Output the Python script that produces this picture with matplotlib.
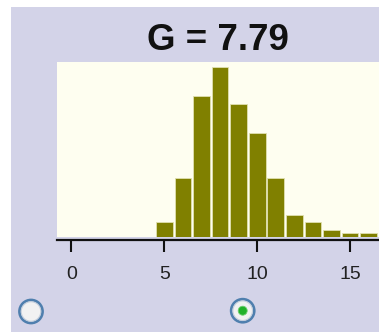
import matplotlib
matplotlib.use("Agg")
import matplotlib.pyplot as plt
from matplotlib.patches import Circle

# Sampling distribution counts
values = [5, 6, 7, 8, 9, 10, 11, 12, 13, 14, 15, 16]
counts = [4, 16, 38, 46, 36, 28, 16, 6, 4, 2, 1, 1]
tick_values = [0, 5, 10, 15]
title_text = "G = 7.79"

W, H = 379, 333
DPI = 100
fig = plt.figure(figsize=(W / DPI, H / DPI), dpi=DPI, facecolor="white")

def px_box(x0, y0, x1, y1):
    """Convert a pixel box (top-left origin) into figure fractions."""
    return [x0 / W, 1 - y1 / H, (x1 - x0) / W, (y1 - y0) / H]

# Lavender panel behind everything
bg = fig.add_axes(px_box(11, 7, 379, 332), zorder=-5)
bg.set_facecolor("#d3d3e8")
bg.set_xticks([])
bg.set_yticks([])
for s in bg.spines.values():
    s.set_visible(False)

ax = fig.add_axes(px_box(57, 62, 379, 237), zorder=1)
ax.set_facecolor("#fefef0")
ax.bar(values, counts, width=0.9, color="#808000", edgecolor="#e0e0b0",
       linewidth=0.6, zorder=2)
ax.set_xlim(-0.78, 16.56)
ax.set_ylim(0, 47.3)

for side in ("top", "right", "left"):
    ax.spines[side].set_visible(False)
ax.spines["bottom"].set_position(("outward", 2.2))
ax.spines["bottom"].set_linewidth(1.6)
ax.spines["bottom"].set_color("#111111")
ax.set_yticks([])
ax.set_xticks(tick_values)
ax.set_xticklabels([str(v) for v in tick_values])
ax.tick_params(axis="x", direction="out", length=8.6, width=1.5,
               color="#111111", pad=10, labelsize=14, labelcolor="#222222")
for lbl in ax.get_xticklabels():
    lbl.set_family("Liberation Sans")

fig.text(218 / W, 1 - 41 / H, title_text, ha="center", va="center",
         fontsize=26.5, fontweight="bold", family="Liberation Sans",
         color="#111111", zorder=3)

# Radio buttons below the axis
ov = fig.add_axes([0, 0, 1, 1], facecolor="none", zorder=2)
ov.set_xlim(0, W)
ov.set_ylim(H, 0)
ov.axis("off")
for cx, cy, selected in [(31, 311.5, False), (242.7, 310.7, True)]:
    ov.add_patch(Circle((cx, cy), 11.5, facecolor="#f2f2f2",
                        edgecolor="#4f7fae", linewidth=2.0))
    ov.add_patch(Circle((cx, cy), 9.8, facecolor="none",
                        edgecolor="#c4cedc", linewidth=0.8))
    if selected:
        ov.add_patch(Circle((cx, cy), 4.5, facecolor="#22b22a",
                            edgecolor="#70d070", linewidth=0.6))

fig.savefig("out.png", dpi=DPI, facecolor="white")
